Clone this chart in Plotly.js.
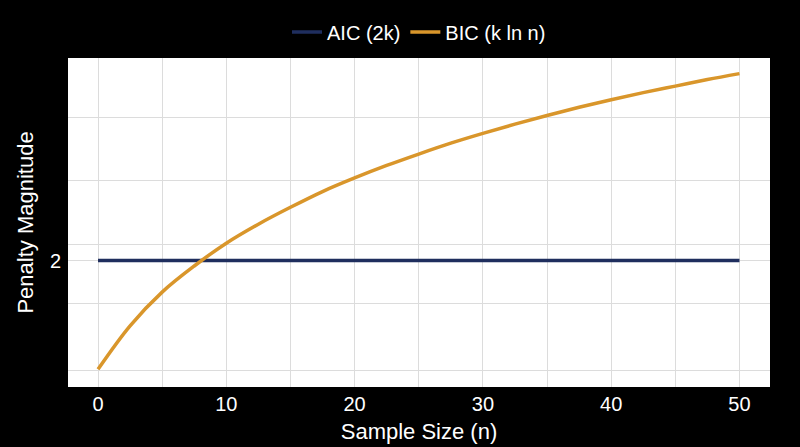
<!DOCTYPE html>
<html>
<head>
<meta charset="utf-8">
<script src="https://cdn.plot.ly/plotly-3.0.1.min.js"></script>
<style>
  html, body { margin: 0; padding: 0; background: #000; }
  #chart { width: 800px; height: 447px; }
</style>
</head>
<body>
<div id="chart"></div>
<script>
// values (y in penalty units, AIC = 2)
var sampleSize = [0, 2.5, 5, 7.5, 10, 12.5, 15, 17.5, 20, 22.5, 25, 27.5, 30, 32.5, 35, 37.5, 40, 42.5, 45, 47.5, 50];
var bicPenalty = [0.0, 0.8, 1.42, 1.9, 2.32, 2.67, 2.98, 3.27, 3.52, 3.75, 3.96, 4.16, 4.34, 4.51, 4.67, 4.82, 4.96, 5.09, 5.21, 5.33, 5.44];
var aicN = [0, 50];
var aicPenalty = [2, 2];

// y grid positions and labels as seen in the picture
var yTickVals = [-0.03, 1.21, 2, 2.29, 3.47, 4.64];
var yTickText = ['', '', '2', '', '', ''];

var FONT = '"Liberation Sans", Arial, sans-serif';

var aic = {
    x: aicN,
    y: aicPenalty,
    mode: 'lines',
    type: 'scatter',
    name: 'AIC (2k)',
    line: {color: '#1f2e5e', width: 3.5}
};

var bic = {
    x: sampleSize,
    y: bicPenalty,
    mode: 'lines',
    type: 'scatter',
    name: 'BIC (k ln n)',
    line: {color: '#d9962b', width: 3.5, shape: 'spline', smoothing: 1}
};

var layout = {
    width: 800,
    height: 447,
    paper_bgcolor: '#000000',
    plot_bgcolor: '#ffffff',
    margin: {l: 68, r: 30, t: 58, b: 60},
    font: {family: FONT, color: '#ffffff', size: 20},
    showlegend: true,
    legend: {
        orientation: 'h',
        x: 0.5, xanchor: 'center',
        y: 1.02, yanchor: 'bottom',
        font: {size: 20, color: '#ffffff'},
        bgcolor: 'rgba(0,0,0,0)'
    },
    xaxis: {
        title: {text: 'Sample Size (n)', font: {size: 22}, standoff: 9},
        range: [-2.34, 52.38],
        dtick: 10,
        tick0: 0,
        showgrid: true,
        gridcolor: '#dcdcdc',
        gridwidth: 1,
        minor: {dtick: 5, tick0: 0, showgrid: true, gridcolor: '#dcdcdc', gridwidth: 1},
        zeroline: false,
        showline: false,
        ticks: '',
        ticklabelstandoff: 3,
        tickfont: {size: 20}
    },
    yaxis: {
        title: {text: 'Penalty Magnitude', font: {size: 22}, standoff: 10},
        range: [-0.326, 5.727],
        tickmode: 'array',
        tickvals: yTickVals,
        ticktext: yTickText,
        showgrid: true,
        gridcolor: '#dcdcdc',
        gridwidth: 1,
        zeroline: false,
        showline: false,
        ticks: '',
        ticklabelstandoff: 6,
        tickfont: {size: 20}
    }
};

Plotly.newPlot('chart', [aic, bic], layout, {displayModeBar: false, staticPlot: true});
</script>
</body>
</html>
